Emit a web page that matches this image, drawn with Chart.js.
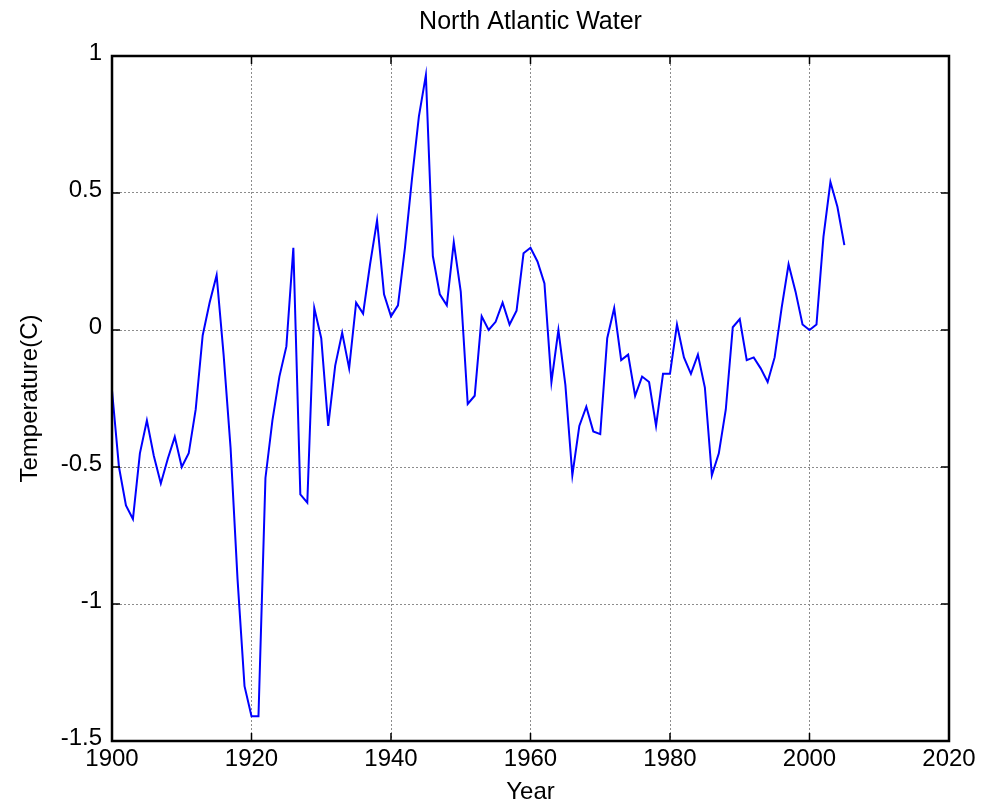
<!DOCTYPE html>
<html>
<head>
<meta charset="utf-8">
<title>North Atlantic Water</title>
<script src="https://cdn.jsdelivr.net/npm/chart.js@4.4.1/dist/chart.umd.min.js"></script>
<style>
  html, body { margin: 0; padding: 0; background: #fff; }
  #wrap { width: 992px; height: 805px; }
</style>
</head>
<body>
<div id="wrap"><canvas id="chart" width="992" height="805"></canvas></div>
<script>
// yearly values, 1900 - 2005
const years = [
    1900, 1901, 1902, 1903, 1904, 1905, 1906, 1907, 1908, 1909,
    1910, 1911, 1912, 1913, 1914, 1915, 1916, 1917, 1918, 1919,
    1920, 1921, 1922, 1923, 1924, 1925, 1926, 1927, 1928, 1929,
    1930, 1931, 1932, 1933, 1934, 1935, 1936, 1937, 1938, 1939,
    1940, 1941, 1942, 1943, 1944, 1945, 1946, 1947, 1948, 1949,
    1950, 1951, 1952, 1953, 1954, 1955, 1956, 1957, 1958, 1959,
    1960, 1961, 1962, 1963, 1964, 1965, 1966, 1967, 1968, 1969,
    1970, 1971, 1972, 1973, 1974, 1975, 1976, 1977, 1978, 1979,
    1980, 1981, 1982, 1983, 1984, 1985, 1986, 1987, 1988, 1989,
    1990, 1991, 1992, 1993, 1994, 1995, 1996, 1997, 1998, 1999,
    2000, 2001, 2002, 2003, 2004, 2005
];
const temperature = [
    -0.22, -0.50, -0.64, -0.69, -0.45, -0.33, -0.46, -0.56, -0.47, -0.39,
    -0.50, -0.45, -0.29, -0.02, 0.10, 0.20, -0.09, -0.43, -0.91, -1.30,
    -1.41, -1.41, -0.54, -0.33, -0.17, -0.06, 0.30, -0.60, -0.63, 0.08,
    -0.03, -0.35, -0.13, -0.01, -0.14, 0.10, 0.06, 0.24, 0.40, 0.13,
    0.05, 0.09, 0.30, 0.55, 0.78, 0.93, 0.27, 0.13, 0.09, 0.32,
    0.14, -0.27, -0.24, 0.05, 0.00, 0.03, 0.10, 0.02, 0.07, 0.28,
    0.30, 0.25, 0.17, -0.19, 0.00, -0.20, -0.53, -0.35, -0.28, -0.37,
    -0.38, -0.03, 0.08, -0.11, -0.09, -0.24, -0.17, -0.19, -0.35, -0.16,
    -0.16, 0.02, -0.10, -0.16, -0.09, -0.21, -0.53, -0.45, -0.29, 0.01,
    0.04, -0.11, -0.10, -0.14, -0.19, -0.10, 0.08, 0.24, 0.14, 0.02,
    0.00, 0.02, 0.34, 0.54, 0.45, 0.31
];
const xTicks = [1900, 1920, 1940, 1960, 1980, 2000, 2020];
const yTicks = [-1.5, -1, -0.5, 0, 0.5, 1];

const FONT = "'Liberation Sans', Arial, Helvetica, sans-serif";

// black box round the plot with short inward ticks, matlab style
const framePlugin = {
    id: 'frame',
    afterDatasetsDraw(chart) {
        const { ctx, chartArea: a, scales: { x, y } } = chart;
        ctx.save();
        ctx.strokeStyle = '#000';
        ctx.lineWidth = 1.5;
        ctx.beginPath();
        x.ticks.forEach(t => {
            const px = x.getPixelForValue(t.value);
            ctx.moveTo(px, a.bottom); ctx.lineTo(px, a.bottom - 8);
            ctx.moveTo(px, a.top); ctx.lineTo(px, a.top + 8);
        });
        y.ticks.forEach(t => {
            const py = y.getPixelForValue(t.value);
            ctx.moveTo(a.left, py); ctx.lineTo(a.left + 8, py);
            ctx.moveTo(a.right, py); ctx.lineTo(a.right - 8, py);
        });
        ctx.stroke();
        ctx.lineWidth = 2.5;
        ctx.strokeRect(a.left, a.top, a.right - a.left, a.bottom - a.top);
        ctx.restore();
    }
};

const ctx = document.getElementById('chart').getContext('2d');
new Chart(ctx, {
    type: 'line',
    data: {
        datasets: [{
            label: 'North Atlantic Water',
            data: years.map((yr, i) => ({ x: yr, y: temperature[i] })),
            borderColor: '#0000ff',
            borderWidth: 2,
            pointRadius: 0,
            tension: 0,
            fill: false
        }]
    },
    options: {
        responsive: false,
        animation: false,
        devicePixelRatio: 1,
        layout: { padding: { left: 0, right: 43, top: 0, bottom: 0 } },
        plugins: {
            legend: { display: false },
            tooltip: { enabled: false },
            title: {
                display: true,
                fullSize: false,
                text: 'North Atlantic Water',
                color: '#000',
                font: { family: FONT, size: 25, weight: 'normal' },
                padding: { top: 7, bottom: 19 }
            }
        },
        scales: {
            x: {
                type: 'linear',
                min: 1900,
                max: 2020,
                afterBuildTicks: s => { s.ticks = xTicks.map(v => ({ value: v })); },
                afterFit: s => { s.height = 64; },
                ticks: {
                    color: '#000',
                    font: { family: FONT, size: 24 },
                    padding: 4,
                    maxRotation: 0,
                    callback: v => String(v)
                },
                grid: { color: '#8c8c8c', lineWidth: 1, drawTicks: false },
                border: { display: false, dash: [2, 2] },
                title: {
                    display: true,
                    text: 'Year',
                    color: '#000',
                    font: { family: FONT, size: 24 },
                    padding: { top: 0, bottom: -2 }
                }
            },
            y: {
                type: 'linear',
                min: -1.5,
                max: 1,
                afterBuildTicks: s => { s.ticks = yTicks.map(v => ({ value: v })); },
                afterFit: s => { s.width = 112; },
                ticks: {
                    color: '#000',
                    font: { family: FONT, size: 24 },
                    padding: 10,
                    labelOffset: -3,
                    callback: v => String(v)
                },
                grid: { color: '#8c8c8c', lineWidth: 1, drawTicks: false },
                border: { display: false, dash: [2, 2] },
                title: {
                    display: true,
                    text: 'Temperature(C)',
                    color: '#000',
                    font: { family: FONT, size: 24 },
                    padding: { top: 16, bottom: 0 }
                }
            }
        }
    },
    plugins: [framePlugin]
});
</script>
</body>
</html>
